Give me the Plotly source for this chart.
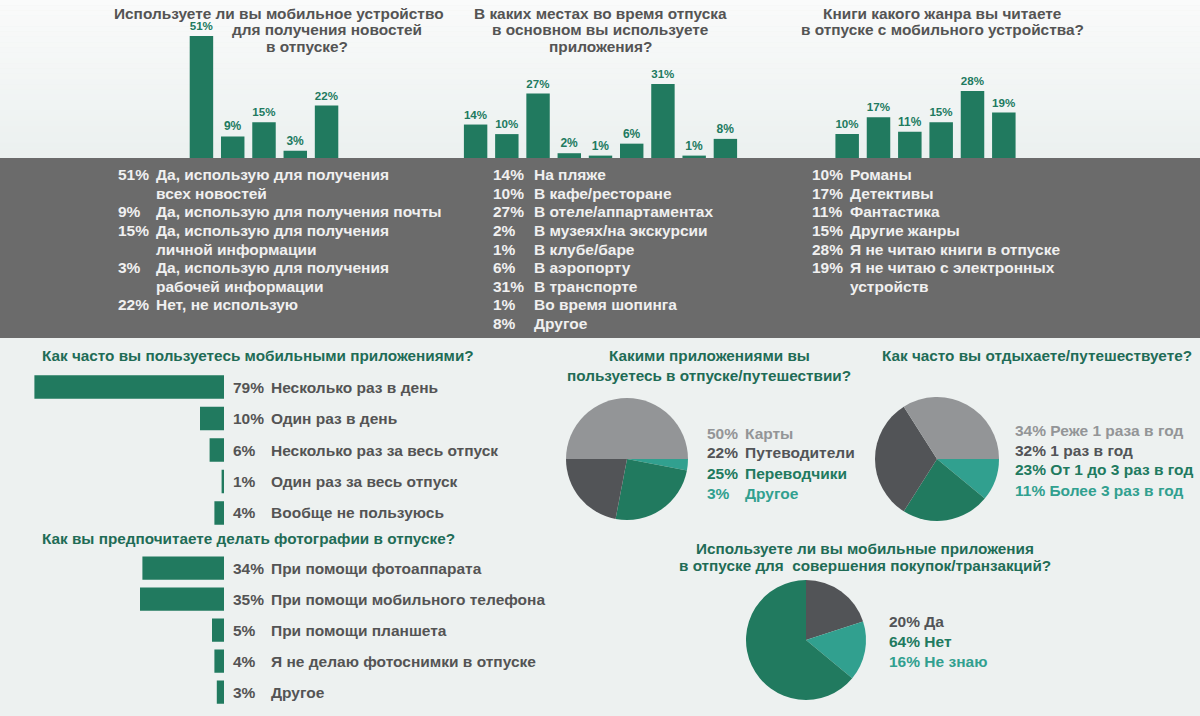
import plotly.graph_objects as go

W, H = 1200, 716

# ---------------- data ----------------
news_labels = ["Да, использую для получения<br>всех новостей",
               "Да, использую для получения почты",
               "Да, использую для получения<br>личной информации",
               "Да, использую для получения<br>рабочей информации",
               "Нет, не использую"]
news_values = [51, 9, 15, 3, 22]

places_labels = ["На пляже", "В кафе/ресторане", "В отеле/аппартаментах",
                 "В музеях/на экскурсии", "В клубе/баре", "В аэропорту",
                 "В транспорте", "Во время шопинга", "Другое"]
places_values = [14, 10, 27, 2, 1, 6, 31, 1, 8]

genre_labels = ["Романы", "Детективы", "Фантастика", "Другие жанры",
                "Я не читаю книги в отпуске",
                "Я не читаю с электронных<br>устройств"]
genre_values = [10, 17, 11, 15, 28, 19]

freq_labels = ["Несколько раз в день", "Один раз в день",
               "Несколько раз за весь отпуск", "Один раз за весь отпуск",
               "Вообще не пользуюсь"]
freq_values = [79, 10, 6, 1, 4]

photo_labels = ["При помощи фотоаппарата", "При помощи мобильного телефона",
                "При помощи планшета", "Я не делаю фотоснимки в отпуске",
                "Другое"]
photo_values = [34, 35, 5, 4, 3]

apps_labels = ["Карты", "Путеводители", "Переводчики", "Другое"]
apps_values = [50, 22, 25, 3]

travel_labels = ["Реже 1 раза в год", "1 раз в год", "От 1 до 3 раз в год",
                 "Более 3 раз в год"]
travel_values = [34, 32, 23, 11]

buy_labels = ["Да", "Нет", "Не знаю"]
buy_values = [20, 64, 16]

title_news = ["Используете ли вы мобильное устройство", "для получения новостей", "в отпуске?"]
title_places = ["В каких местах во время отпуска", "в основном вы используете", "приложения?"]
title_genre = ["Книги какого жанра вы читаете", "в отпуске с мобильного устройства?"]
title_freq = "Как часто вы пользуетесь мобильными приложениями?"
title_photo = "Как вы предпочитаете делать фотографии в отпуске?"
title_apps = "Какими приложениями вы<br>пользуетесь в отпуске/путешествии?"
title_travel = "Как часто вы отдыхаете/путешествуете?"
title_buy = "Используете ли вы мобильные приложения<br>в отпуске для  совершения покупок/транзакций?"

# ---------------- style ----------------
FONT = "Arial, Liberation Sans, sans-serif"
GREEN = "#217a5f"
TEAL = "#31a08f"
DGRAY = "#525457"
LGRAY = "#939597"
TXT = "#545454"
TITLE_GREEN = "#1f6c56"
BAND = "#6b6b6b"
BAND_TXT = "#f0f0f0"
FS = 15.5


def px(x):
    return x / W


def py(y):
    return 1 - y / H


fig = go.Figure()
annotations = []
shapes = []


def txt(x, y, s, size, color, xanchor="left"):
    annotations.append(dict(xref="paper", yref="paper", x=px(x), y=py(y),
                            xanchor=xanchor, yanchor="middle", showarrow=False,
                            text=f"<b>{s}</b>", font=dict(family=FONT, size=size, color=color)))


# background gradient (top lighter)
n = 30
for i in range(n):
    t = i / (n - 1)
    c0 = (250, 251, 251)
    c1 = (236, 241, 240)
    c = tuple(int(c0[k] + (c1[k] - c0[k]) * t) for k in range(3))
    shapes.append(dict(type="rect", xref="paper", yref="paper", layer="below",
                       x0=0, x1=1, y0=py(158 * (i + 1) / n), y1=py(158 * i / n),
                       fillcolor="rgb(%d,%d,%d)" % c, line_width=0))
shapes.append(dict(type="rect", xref="paper", yref="paper", layer="below",
                   x0=0, x1=1, y0=0, y1=py(338), fillcolor="#edf1f0", line_width=0))
# dark band
shapes.append(dict(type="rect", xref="paper", yref="paper", layer="below",
                   x0=0, x1=1, y0=py(338), y1=py(158), fillcolor=BAND, line_width=0))

# ---------------- top vertical bar charts ----------------
top_charts = [
    (title_news, news_labels, news_values, 185.8, 342.2, [112, 230, 264], "left"),
    (title_places, places_labels, places_values, 460, 741, [600, 600, 600], "center"),
    (title_genre, genre_labels, genre_values, 831.5, 1019.5, [942, 942], "center"),
]
scale_top = 2.39  # px per percent
for i, (tlines, labs, vals, x0, x1, txs, anc) in enumerate(top_charts):
    ax = i + 1
    xs = "" if ax == 1 else str(ax)
    fig.add_trace(go.Bar(
        x=labs, y=vals, xaxis="x" + xs, yaxis="y" + xs,
        marker=dict(color=GREEN, line_width=0),
        text=[f"{v}%" for v in vals], textposition="outside",
        textfont=dict(family=FONT, size=12, color=GREEN),
        texttemplate="<b>%{text}</b>", cliponaxis=False,
        hoverinfo="skip", showlegend=False))
    fig.update_layout(**{
        "xaxis" + xs: dict(domain=[px(x0), px(x1)], visible=False, anchor="y" + xs),
        "yaxis" + xs: dict(domain=[py(158), 1], range=[0, 158 / scale_top],
                           visible=False, anchor="x" + xs),
    })
    for j, (line, tx) in enumerate(zip(tlines, txs)):
        txt(tx, 13 + j * 16.5, line, 15.4, TXT, xanchor=anc)

# band text
band_cols = [
    (news_labels, news_values, 116, 154),
    (places_labels, places_values, 491, 532),
    (genre_labels, genre_values, 810, 848),
]
for labs, vals, xp, xl in band_cols:
    row = 0
    for lab, v in zip(labs, vals):
        lines = lab.split("<br>")
        for j, line in enumerate(lines):
            yy = 175 + (row + j) * 18.5
            if j == 0:
                txt(xp, yy, f"{v}%", FS, BAND_TXT)
            txt(xl, yy, line, FS, BAND_TXT)
        row += len(lines)

# ---------------- horizontal bar charts ----------------
scale_h = 2.4
hcharts = [
    (title_freq, freq_labels, freq_values, 371.3, 528.7, 355, 4),
    (title_photo, photo_labels, photo_values, 552.5, 707.5, 538, 5),
]
for title, labs, vals, y0, y1, ty, ax in hcharts:
    fig.add_trace(go.Bar(
        y=labs, x=vals, orientation="h", xaxis=f"x{ax}", yaxis=f"y{ax}",
        marker=dict(color=GREEN, line_width=0), hoverinfo="skip", showlegend=False))
    fig.update_layout(**{
        f"xaxis{ax}": dict(domain=[0, px(224)], range=[224 / scale_h, 0],
                           visible=False, anchor=f"y{ax}"),
        f"yaxis{ax}": dict(domain=[py(y1), py(y0)], autorange="reversed",
                           visible=False, anchor=f"x{ax}", type="category"),
    })
    for lab, v in zip(labs, vals):
        annotations.append(dict(xref="paper", yref=f"y{ax}", x=px(231), y=lab,
                                xanchor="left", yanchor="middle", showarrow=False,
                                text=f"<b>{v}%</b>",
                                font=dict(family=FONT, size=FS, color=TXT)))
        annotations.append(dict(xref="paper", yref=f"y{ax}", x=px(269), y=lab,
                                xanchor="left", yanchor="middle", showarrow=False,
                                text=f"<b>{lab}</b>",
                                font=dict(family=FONT, size=FS, color=TXT)))
    txt(40, ty, title, 15.3, TITLE_GREEN)

# ---------------- pies ----------------
apps_colors = [LGRAY, DGRAY, GREEN, TEAL]
travel_colors = [LGRAY, DGRAY, GREEN, TEAL]
buy_colors = [DGRAY, GREEN, TEAL]

# slices drawn clockwise, starting angle (degrees clockwise from 12 o'clock)
pies = [
    (title_apps, apps_labels, apps_values, apps_colors, (627, 459, 61),
     90, [3, 2, 1, 0], 705, 743, 433, 709, 355),
    (title_travel, travel_labels, travel_values, travel_colors, (937, 459, 62),
     90, [3, 2, 1, 0], 1013, 1013, 430, 1037, 355),
    (title_buy, buy_labels, buy_values, buy_colors, (806, 640, 60),
     0, [0, 2, 1], 887, 887, 621, 865, 548),
]
for title, labs, vals, cols, (cx, cy, r), rot, order, xp, xl, ly, tx, ty in pies:
    fig.add_trace(go.Pie(
        labels=[labs[k] for k in order], values=[vals[k] for k in order],
        marker=dict(colors=[cols[k] for k in order], line_width=0),
        sort=False, direction="clockwise", rotation=rot, textinfo="none",
        hoverinfo="skip", showlegend=False,
        domain=dict(x=[px(cx - r), px(cx + r)], y=[py(cy + r), py(cy - r)])))
    for i, (lab, v, c) in enumerate(zip(labs, vals, cols)):
        yy = ly + i * 20
        if xl == xp:
            txt(xp, yy, f"{v}% {lab}", FS, c)
        else:
            txt(xp, yy, f"{v}%", FS, c)
            txt(xl, yy, lab, FS, c)
    for j, line in enumerate(title.split("<br>")):
        txt(tx, ty + j * (20 if ty < 400 else 17), line, 15.3, TITLE_GREEN, xanchor="center")

fig.update_layout(
    width=W, height=H, margin=dict(l=0, r=0, t=0, b=0),
    paper_bgcolor="#eef2f1", plot_bgcolor="rgba(0,0,0,0)",
    bargap=0.25, shapes=shapes, annotations=annotations,
    font=dict(family=FONT),
)

fig.write_html("out.html", config={"displayModeBar": False},
               post_script="document.body.style.margin='0';document.body.style.overflow='hidden';")
